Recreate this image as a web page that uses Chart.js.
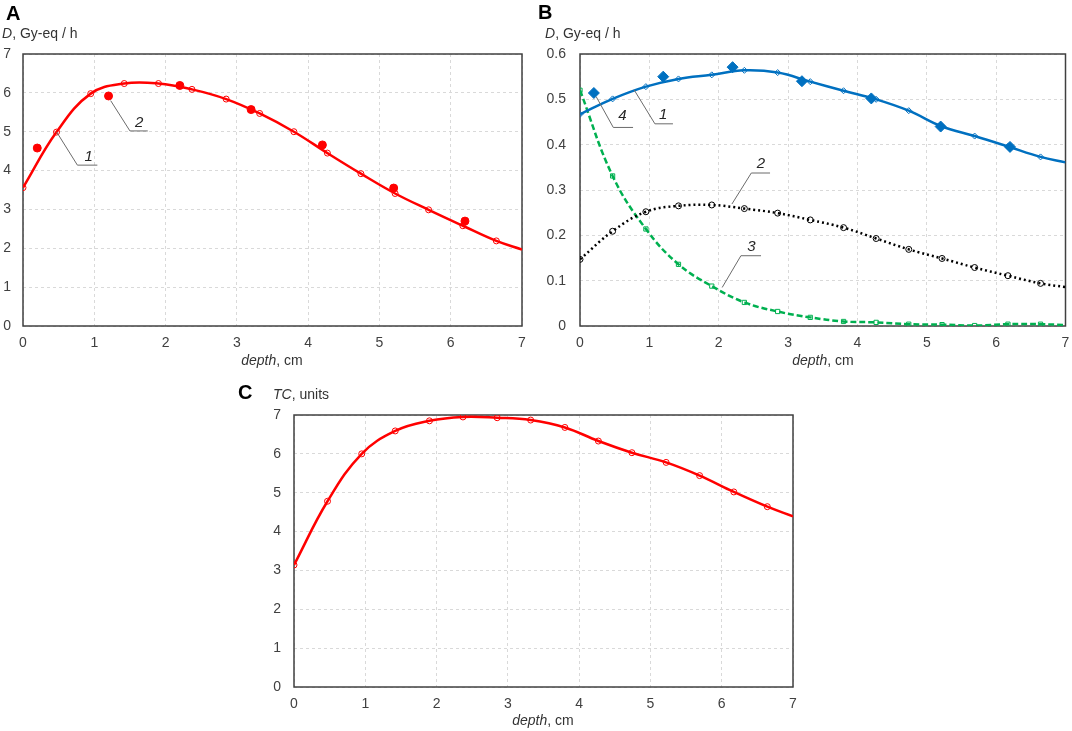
<!DOCTYPE html>
<html>
<head>
<meta charset="utf-8">
<script src="https://cdn.jsdelivr.net/npm/chart.js@4.4.1/dist/chart.umd.min.js"></script>
<style>
body{margin:0;background:#fff;font-family:"Liberation Sans",Arial,sans-serif}
#page{position:relative;width:1072px;height:731px;overflow:hidden}
canvas{position:absolute}
.lbl{position:absolute;font-size:20px;font-weight:bold;color:#000;line-height:20px}
.ttl{position:absolute;font-size:14px;line-height:16px;color:#333;white-space:nowrap}
.ctr{transform:translateX(-50%)}
</style>
</head>
<body>
<div id="page">
  <canvas id="chartA" width="540" height="352" style="left:0;top:0"></canvas>
  <canvas id="chartB" width="532" height="352" style="left:540px;top:0"></canvas>
  <canvas id="chartC" width="580" height="366" style="left:230px;top:365px"></canvas>

  <div class="lbl" style="left:6px;top:3px">A</div>
  <div class="ttl" style="left:2px;top:25px"><i>D</i>, Gy-eq / h</div>
  <div class="ttl ctr" style="left:272px;top:352px"><i>depth</i>, cm</div>

  <div class="lbl" style="left:538px;top:2px">B</div>
  <div class="ttl" style="left:545px;top:25px"><i>D</i>, Gy-eq / h</div>
  <div class="ttl ctr" style="left:823px;top:352px"><i>depth</i>, cm</div>

  <div class="lbl" style="left:238px;top:382px">C</div>
  <div class="ttl" style="left:273px;top:386px"><i>TC</i>, units</div>
  <div class="ttl ctr" style="left:543px;top:712px"><i>depth</i>, cm</div>
</div>
<script>
// depth grid of the calculated curves (last point = right edge, no marker)
var depth = [0, 0.47, 0.95, 1.42, 1.9, 2.37, 2.85, 3.32, 3.8, 4.27, 4.74, 5.22, 5.69, 6.17, 6.64, 7];
// depths of the measured points
var depthMeas = [0.2, 1.2, 2.2, 3.2, 4.2, 5.2, 6.2];

// panel A
var doseA = [3.56, 4.99, 5.98, 6.24, 6.24, 6.09, 5.84, 5.47, 5.00, 4.45, 3.92, 3.41, 2.99, 2.58, 2.19, 1.97];
var doseAMeas = [4.58, 5.92, 6.19, 5.57, 4.66, 3.55, 2.70];

// panel B
var doseB1 = [0.467, 0.501, 0.528, 0.545, 0.554, 0.564, 0.559, 0.539, 0.519, 0.500, 0.475, 0.440, 0.419, 0.396, 0.373, 0.361];
var doseB2 = [0.147, 0.209, 0.252, 0.265, 0.267, 0.259, 0.249, 0.234, 0.217, 0.193, 0.169, 0.149, 0.129, 0.111, 0.094, 0.086];
var doseB3 = [0.520, 0.331, 0.214, 0.136, 0.088, 0.052, 0.032, 0.019, 0.010, 0.008, 0.004, 0.003, 0.001, 0.004, 0.004, 0.002];
var doseBMeas = [0.514, 0.550, 0.571, 0.540, 0.502, 0.440, 0.395];

// panel C
var tcC = [3.14, 4.78, 6.00, 6.59, 6.85, 6.95, 6.93, 6.87, 6.68, 6.33, 6.03, 5.78, 5.44, 5.02, 4.64, 4.39];

// curve labels: leader line (data coords) and number
var notesA = [
    {pts: [[0.473, 4.99], [0.763, 4.14], [1.043, 4.14]], at: [0.92, 4.36], text: '1'},
    {pts: [[1.23, 5.80], [1.50, 5.02], [1.75, 5.02]], at: [1.63, 5.22], text: '2'}
];
var notesB = [
    {pts: [[0.233, 0.506], [0.48, 0.438], [0.765, 0.438]], at: [0.61, 0.463], text: '4'},
    {pts: [[0.78, 0.521], [1.08, 0.446], [1.34, 0.446]], at: [1.20, 0.466], text: '1'},
    {pts: [[2.19, 0.269], [2.47, 0.3375], [2.74, 0.3375]], at: [2.61, 0.357], text: '2'},
    {pts: [[2.05, 0.085], [2.32, 0.155], [2.61, 0.155]], at: [2.47, 0.175], text: '3'}
];

var FONT = '"Liberation Sans", Arial, sans-serif';

function xy(xs, ys) {
    return xs.map(function (x, i) { return {x: x, y: ys[i]}; });
}

function curve(ys, color, style, dash) {
    return {
        data: xy(depth, ys),
        showLine: true,
        borderColor: color,
        borderWidth: 2.5,
        borderDash: dash || [],
        tension: 0.4,
        pointStyle: style,
        pointRadius: depth.map(function (x, i) { return i < depth.length - 1 ? 3 : 0; }),
        pointBorderColor: color,
        pointBorderWidth: 1,
        pointBackgroundColor: 'rgba(0,0,0,0)'
    };
}

function measured(ys, color, style, r) {
    return {
        data: xy(depthMeas, ys),
        showLine: false,
        pointStyle: style,
        pointRadius: r,
        pointBorderColor: color,
        pointBackgroundColor: color,
        pointBorderWidth: 1
    };
}

// full frame round the plot area
var framePlugin = {
    id: 'frame',
    beforeDatasetsDraw: function (chart) {
        var a = chart.chartArea, ctx = chart.ctx;
        ctx.save();
        ctx.strokeStyle = '#404040';
        ctx.lineWidth = 1.5;
        ctx.strokeRect(a.left, a.top, a.right - a.left, a.bottom - a.top);
        ctx.restore();
    }
};

// numbered leader lines
var notesPlugin = {
    id: 'notes',
    afterDatasetsDraw: function (chart, args, opts) {
        var ctx = chart.ctx, sx = chart.scales.x, sy = chart.scales.y;
        (opts.items || []).forEach(function (n) {
            ctx.save();
            ctx.strokeStyle = '#6b6b6b';
            ctx.lineWidth = 1;
            ctx.beginPath();
            n.pts.forEach(function (p, i) {
                var px = sx.getPixelForValue(p[0]), py = sy.getPixelForValue(p[1]);
                if (i === 0) ctx.moveTo(px, py); else ctx.lineTo(px, py);
            });
            ctx.stroke();
            ctx.fillStyle = '#262626';
            ctx.font = 'italic 15px ' + FONT;
            ctx.textAlign = 'center';
            ctx.textBaseline = 'middle';
            ctx.fillText(n.text, sx.getPixelForValue(n.at[0]), sy.getPixelForValue(n.at[1]));
            ctx.restore();
        });
    }
};

function makePanel(id, datasets, yMax, yStep, yWidth, yPad, pad, notes) {
    return new Chart(document.getElementById(id), {
        type: 'scatter',
        data: {datasets: datasets},
        options: {
            responsive: false,
            animation: false,
            layout: {padding: pad},
            plugins: {
                legend: {display: false},
                tooltip: {enabled: false},
                notes: {items: notes}
            },
            scales: {
                x: {
                    type: 'linear', min: 0, max: 7,
                    ticks: {stepSize: 1, padding: 9, color: '#404040', font: {size: 14, family: FONT}},
                    grid: {color: '#d9d9d9', drawTicks: false},
                    border: {display: false, dash: [3, 3]},
                    afterFit: function (s) { s.height = 26; s.paddingLeft = 0; s.paddingRight = 0; }
                },
                y: {
                    type: 'linear', min: 0, max: yMax,
                    ticks: {stepSize: yStep, padding: yPad, color: '#404040', font: {size: 14, family: FONT}},
                    grid: {color: '#d9d9d9', drawTicks: false},
                    border: {display: false, dash: [3, 3]},
                    afterFit: function (s) { s.width = yWidth; s.paddingTop = 0; s.paddingBottom = 0; }
                }
            }
        },
        plugins: [framePlugin, notesPlugin]
    });
}

var RED = '#ff0000', BLUE = '#0070c0', GREEN = '#00b050', BLACK = '#000000';

makePanel('chartA', [
    measured(doseAMeas, RED, 'circle', 4),
    curve(doseA, RED, 'circle')
], 7, 1, 23, 12, {left: 0, top: 54, right: 18, bottom: 0}, notesA);

makePanel('chartB', [
    measured(doseBMeas, BLUE, 'rectRot', 5.5),
    curve(doseB1, BLUE, 'rectRot'),
    curve(doseB2, BLACK, 'circle', [2, 3]),
    curve(doseB3, GREEN, 'rect', [6, 3])
], 0.6, 0.1, 40, 14, {left: 0, top: 54, right: 5, bottom: 0}, notesB);

makePanel('chartC', [
    curve(tcC, RED, 'circle')
], 7, 1, 64, 13, {left: 0, top: 50, right: 17, bottom: 18}, []);
</script>
</body>
</html>
